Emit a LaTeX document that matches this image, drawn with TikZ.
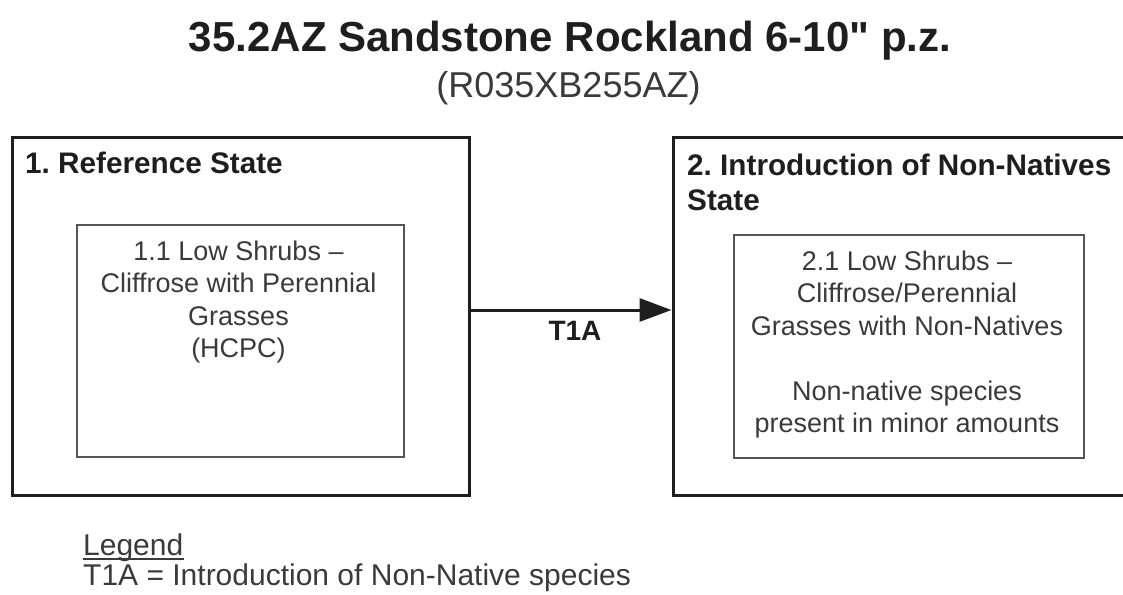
\documentclass[tikz,border=0pt]{standalone}
\usepackage{fontspec}
\setmainfont{Liberation Sans}
\newfontfamily\rawsans{Liberation Sans}
\usetikzlibrary{arrows.meta}
\definecolor{txtgray}{HTML}{3A3A3A}
\definecolor{boxgray}{HTML}{555555}
\definecolor{ink}{HTML}{1E1E1E}
\tikzset{
  statebox/.style={draw=ink, line width=3pt, inner sep=0pt},
  phasebox/.style={draw=boxgray, line width=2pt, inner sep=0pt},
  statetitle/.style={font=\bfseries\fontsize{29.7}{35}\selectfont, text=ink, inner sep=0pt, align=left},
  phasetext/.style={font=\fontsize{27}{32.4}\selectfont, text=txtgray, align=center, inner sep=0pt, anchor=north},
  plaintext/.style={anchor=base west, font=\fontsize{30}{32}\selectfont, text=txtgray, inner sep=0pt},
}
\begin{document}
\frenchspacing
\begin{tikzpicture}[x=1pt,y=-1pt]
\useasboundingbox (0,0) rectangle (1123,594);
\clip (0,0) rectangle (1123,594);
% title
\node[font=\rawsans\bfseries\fontsize{42}{46}\selectfont, text=ink, inner sep=0pt, anchor=base] (title) at (570,52) {35.2AZ Sandstone Rockland 6-10" p.z.};
\node[font=\fontsize{36}{40}\selectfont, text=txtgray, inner sep=0pt, anchor=base] (code) at (568.5,97) {(R035XB255AZ)};
% state 1
\node[statebox, minimum width=457pt, minimum height=358pt] (s1) at (240.5,316) {};
\node[statetitle, anchor=base west] (s1t) at (25,173) {1. Reference State};
\node[phasebox, minimum width=327pt, minimum height=232pt] (p1) at (240.5,341) {};
\node[phasetext] (p1t) at (238.5,240.7) {1.1 Low Shrubs –\\Cliffrose with Perennial\\Grasses\\(HCPC)};
% state 2
\node[statebox, minimum width=462pt, minimum height=358pt] (s2) at (904,316) {};
\node[statetitle, anchor=north west] (s2t) at (687,153.7) {2. Introduction of Non-Natives\\State};
\node[phasebox, minimum width=350pt, minimum height=223pt] (p2) at (909,346.5) {};
\node[phasetext] (p2t) at (907,250.7) {2.1 Low Shrubs –\\Cliffrose/Perennial\\Grasses with Non-Natives\\[32.4pt]Non-native species\\present in minor amounts};
% transition
\coordinate (ay) at (0,310);
\draw[line width=3pt, ink, -{Triangle[length=32pt,width=23pt]}] (s1.east |- ay) -- (s2.west |- ay) node[pos=0.5, anchor=base, xshift=4pt, yshift=-30pt, font=\bfseries\fontsize{28}{30}\selectfont, text=ink, inner sep=0pt] (t1a) {T1A};
% legend
\node[plaintext] (leg) at (83,555) {Legend};
\draw[txtgray, line width=1.6pt] ([yshift=-4pt]leg.base west) -- ([yshift=-4pt]leg.base east);
\node[plaintext] (leg1) at (83,585) {T1A = Introduction of Non-Native species};
\end{tikzpicture}
\end{document}
